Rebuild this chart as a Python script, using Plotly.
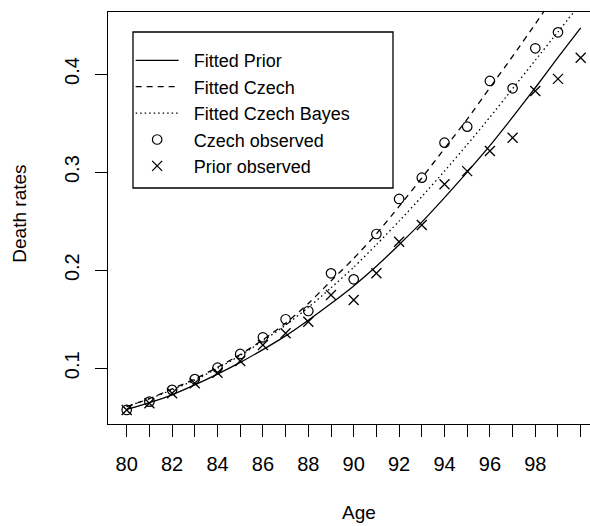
import plotly.graph_objects as go

# ---- data ----
ages = list(range(80, 101))
czech_obs_ages = list(range(80, 100))
czech_obs = [0.0575, 0.066, 0.078, 0.089, 0.1006, 0.1146, 0.1316, 0.150, 0.1584, 0.1968,
             0.1907, 0.2369, 0.2726, 0.2943, 0.330, 0.3463, 0.3929, 0.3854, 0.4262, 0.4425]
prior_obs = [0.0575, 0.0643, 0.0745, 0.0847, 0.0955, 0.1074, 0.1238, 0.1357, 0.1475, 0.1747,
             0.1696, 0.1968, 0.229, 0.2461, 0.2876, 0.301, 0.3215, 0.335, 0.3827, 0.395, 0.4166]

fit_prior = [0.058, 0.065, 0.073, 0.083, 0.094, 0.106, 0.119, 0.133, 0.149, 0.166,
             0.184, 0.204, 0.226, 0.249, 0.274, 0.300, 0.327, 0.356, 0.386, 0.417, 0.447]
fit_czech = [0.061, 0.069, 0.079, 0.089, 0.101, 0.114, 0.129, 0.146, 0.166, 0.189,
             0.212, 0.237, 0.265, 0.294, 0.324, 0.354, 0.386, 0.418, 0.451, 0.485, 0.52]
fit_bayes = [0.061, 0.069, 0.078, 0.088, 0.100, 0.113, 0.128, 0.144, 0.162, 0.182,
             0.203, 0.226, 0.250, 0.275, 0.301, 0.328, 0.356, 0.385, 0.414, 0.443, 0.472]

legend_names = ["Fitted Prior", "Fitted Czech", "Fitted Czech Bayes", "Czech observed", "Prior observed"]
x_tickvals = [80, 82, 84, 86, 88, 90, 92, 94, 96, 98]
y_tickvals = [0.1, 0.2, 0.3, 0.4]
y_ticktext = ["0.1", "0.2", "0.3", "0.4"]

FONT = "Liberation Sans, Arial, sans-serif"
LW = 1.3
PAD = "\u00a0\u00a0"

fig = go.Figure()
fig.add_trace(go.Scatter(x=ages, y=fit_prior, mode="lines", name=PAD + legend_names[0],
                         line=dict(color="black", width=LW, shape="spline", smoothing=0.6)))
fig.add_trace(go.Scatter(x=ages, y=fit_czech, mode="lines", name=PAD + legend_names[1],
                         line=dict(color="black", width=LW, dash="6px,5px", shape="spline", smoothing=0.6)))
fig.add_trace(go.Scatter(x=ages, y=fit_bayes, mode="lines", name=PAD + legend_names[2],
                         line=dict(color="black", width=LW, dash="1.5px,3px", shape="spline", smoothing=0.6)))
fig.add_trace(go.Scatter(x=czech_obs_ages, y=czech_obs, mode="markers", name=PAD + legend_names[3],
                         marker=dict(symbol="circle-open", size=9.5, color="black", line=dict(width=1.2))))
fig.add_trace(go.Scatter(x=ages, y=prior_obs, mode="markers", name=PAD + legend_names[4],
                         marker=dict(symbol="x-thin-open", size=10, color="black", line=dict(width=1.3))))

fig.update_layout(
    width=590, height=526,
    margin=dict(l=108, r=0, t=12, b=102),
    paper_bgcolor="white", plot_bgcolor="white",
    font=dict(family=FONT, size=20, color="black"),
    showlegend=True,
    legend=dict(x=0.047, y=0.927, xanchor="left", yanchor="top",
                borderwidth=0, bgcolor="rgba(0,0,0,0)", itemwidth=43,
                font=dict(size=18), tracegroupgap=0),
    shapes=[dict(type="rect", xref="paper", yref="paper",
                 x0=(133 - 108) / 482, x1=(393 - 108) / 482,
                 y0=(424 - 188) / 412, y1=(424 - 32) / 412,
                 line=dict(color="black", width=1.3), fillcolor="rgba(0,0,0,0)", layer="above")],
    xaxis=dict(range=[79.176, 100.41], showgrid=False, zeroline=False,
               showline=True, mirror=True, linecolor="black", linewidth=1.3,
               tickmode="array", tickvals=x_tickvals,
               ticks="outside", ticklen=12, tickwidth=1.2, tickcolor="black",
               minor=dict(dtick=1, tick0=80, ticks="outside", ticklen=12, tickwidth=1.2, tickcolor="black"),
               ticklabelstandoff=10, tickfont=dict(size=20)),
    yaxis=dict(range=[0.0432, 0.4632], showgrid=False, zeroline=False,
               showline=True, mirror=False, linecolor="black", linewidth=1.3,
               tickmode="array", tickvals=y_tickvals, ticktext=y_ticktext, tickangle=-90,
               ticks="outside", ticklen=12, tickwidth=1.2, tickcolor="black",
               ticklabelstandoff=8, tickfont=dict(size=20)),
    annotations=[
        dict(text="Age", xref="paper", yref="paper", x=0.52, y=-0.215, xanchor="center",
             yanchor="middle", showarrow=False, font=dict(size=19)),
        dict(text="Death rates", xref="paper", yref="paper", x=-0.183, y=0.51, textangle=-90,
             xanchor="center", yanchor="middle", showarrow=False, font=dict(size=19)),
    ],
)

fig.write_html("out.html")
